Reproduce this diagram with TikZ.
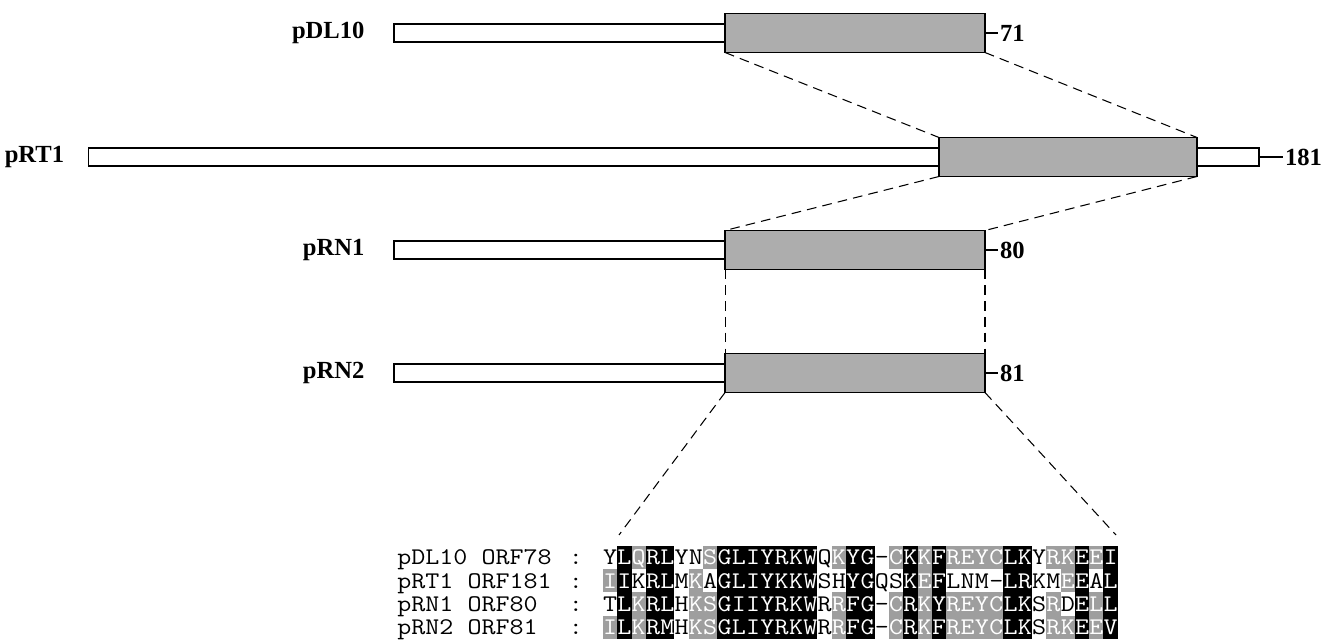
\documentclass[tikz,border=0pt]{standalone}
\usepackage{fontspec}
\setmainfont{Liberation Serif}
\setmonofont{Latin Modern Mono}[FakeStretch=1.14]
\usepackage{tikz}
\usetikzlibrary{positioning}

\colorlet{fillb}{black}
\colorlet{fillg}{black!38}
\colorlet{fillw}{white}
\colorlet{inkb}{white}
\colorlet{inkg}{white}
\colorlet{inkw}{black}

\begin{document}
\begin{tikzpicture}[
    x=0.02cm, y=-0.02cm,
    flank/.style={rectangle, draw, fill=white, line width=0.7pt, minimum height=0.36cm, inner sep=0pt, outer sep=0pt},
    orfbox/.style={rectangle, draw, fill=black!32, line width=0.8pt, minimum height=0.78cm, inner sep=0pt, outer sep=0pt},
    plasmid/.style={font=\bfseries\fontsize{14}{16}\selectfont, inner sep=1pt},
    orflen/.style={font=\bfseries\fontsize{14}{16}\selectfont, inner sep=1pt},
    link/.style={dash pattern=on 5.5pt off 3.5pt, line width=0.6pt},
    seqlbl/.style={font=\ttfamily\fontsize{13.6}{14}\selectfont, inner sep=0pt, text height=8.3pt, text depth=0pt},
    cell/.style={font=\ttfamily\fontsize{13.6}{14}\selectfont, inner sep=0pt, outer sep=0pt,
                 minimum width=0.29cm, minimum height=0.47cm, text height=8.3pt, text depth=0pt}
]
\useasboundingbox (0,0) rectangle (1321,641);

% pDL10
\node[orfbox, minimum width=5.2cm] (dl10orf) at (855,33) {};
\node[flank, minimum width=6.62cm, anchor=east] (dl10flank) at (dl10orf.west) {};
\node[plasmid, left=0.55cm of dl10flank] (dl10lbl) {pDL10};
\node[orflen, right=0.26cm of dl10orf] (dl10len) {71};
\draw[line width=0.7pt] (dl10orf) -- (dl10len);

% pRT1
\node[orfbox, minimum width=5.16cm] (rt1orf) at (1068,157) {};
\node[flank, minimum width=17.02cm, anchor=east] (rt1flank) at (rt1orf.west) {};
\node[flank, minimum width=1.24cm, anchor=west] (rt1tail) at (rt1orf.east) {};
\node[plasmid, left=0.44cm of rt1flank] (rt1lbl) {pRT1};
\node[orflen, right=0.48cm of rt1tail] (rt1len) {181};
\draw[line width=0.7pt] (rt1tail) -- (rt1len);

% pRN1
\node[orfbox, minimum width=5.2cm] (rn1orf) at (855,250) {};
\node[flank, minimum width=6.62cm, anchor=east] (rn1flank) at (rn1orf.west) {};
\node[plasmid, left=0.55cm of rn1flank] (rn1lbl) {pRN1};
\node[orflen, right=0.26cm of rn1orf] (rn1len) {80};
\draw[line width=0.7pt] (rn1orf) -- (rn1len);

% pRN2
\node[orfbox, minimum width=5.2cm] (rn2orf) at (855,373) {};
\node[flank, minimum width=6.62cm, anchor=east] (rn2flank) at (rn2orf.west) {};
\node[plasmid, left=0.55cm of rn2flank] (rn2lbl) {pRN2};
\node[orflen, right=0.26cm of rn2orf] (rn2len) {81};
\draw[line width=0.7pt] (rn2orf) -- (rn2len);

% homologous regions
\draw[link] (dl10orf.south west) -- (rt1orf.north west);
\draw[link] (dl10orf.south east) -- (rt1orf.north east);
\draw[link] (rt1orf.south west) -- (rn1orf.north west);
\draw[link] (rt1orf.south east) -- (rn1orf.north east);
\draw[link] (rn1orf.south west) -- (rn2orf.north west);
\draw[link] (rn1orf.south east) -- (rn2orf.north east);

\coordinate (alignL) at (619,535);
\coordinate (alignR) at (1116,535);
\draw[link] (rn2orf.south west) -- (alignL);
\draw[link] (rn2orf.south east) -- (alignR);

% alignment
\node[seqlbl, anchor=west] (seq1) at (397,557.5) {pDL10 ORF78};
\node[seqlbl] (colon1) at (576,557.5) {:};
\node[seqlbl, anchor=west] (seq2) at (397,580.8) {pRT1 ORF181};
\node[seqlbl] (colon2) at (576,580.8) {:};
\node[seqlbl, anchor=west] (seq3) at (397,604.1) {pRN1 ORF80};
\node[seqlbl] (colon3) at (576,604.1) {:};
\node[seqlbl, anchor=west] (seq4) at (397,627.4) {pRN2 ORF81};
\node[seqlbl] (colon4) at (576,627.4) {:};

\foreach \res/\sh [count=\i] in {Y/w,L/b,Q/g,R/b,L/b,Y/w,N/w,S/g,G/b,L/b,I/b,Y/b,R/b,K/b,W/b,Q/w,
    K/g,Y/b,G/b,-/w,C/g,K/b,K/g,F/b,R/g,E/g,Y/g,C/g,L/b,K/b,Y/w,R/g,K/g,E/b,E/g,I/b}
  \node[cell, fill=fill\sh, text=ink\sh] (a1-\i) at ({603+(\i-0.5)*14.3},557.5) {\res};

\foreach \res/\sh [count=\i] in {I/g,I/b,K/w,R/b,L/b,M/w,K/g,A/w,G/b,L/b,I/b,Y/b,K/b,K/b,W/b,S/w,
    H/w,Y/b,G/b,Q/w,S/w,K/b,E/g,F/b,L/w,N/w,M/w,-/w,L/b,R/b,K/w,M/w,E/g,E/b,A/w,L/b}
  \node[cell, fill=fill\sh, text=ink\sh] (a2-\i) at ({603+(\i-0.5)*14.3},580.8) {\res};

\foreach \res/\sh [count=\i] in {T/w,L/b,K/g,R/b,L/b,H/w,K/g,S/g,G/b,I/b,I/b,Y/b,R/b,K/b,W/b,R/w,
    R/g,F/b,G/b,-/w,C/g,R/b,K/g,Y/b,R/g,E/g,Y/g,C/g,L/b,K/b,S/w,R/g,D/w,E/b,L/g,L/b}
  \node[cell, fill=fill\sh, text=ink\sh] (a3-\i) at ({603+(\i-0.5)*14.3},604.1) {\res};

\foreach \res/\sh [count=\i] in {I/g,L/b,K/g,R/b,M/b,H/w,K/g,S/g,G/b,L/b,I/b,Y/b,R/b,K/b,W/b,R/w,
    R/g,F/b,G/b,-/w,C/g,R/b,K/g,F/b,R/g,E/g,Y/g,C/g,L/b,K/b,S/w,R/g,K/g,E/b,E/g,V/b}
  \node[cell, fill=fill\sh, text=ink\sh] (a4-\i) at ({603+(\i-0.5)*14.3},627.4) {\res};

\end{tikzpicture}
\end{document}
